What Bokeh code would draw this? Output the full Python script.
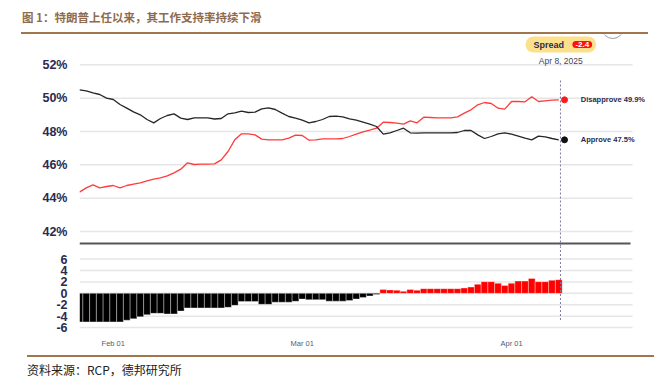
import pandas as pd
from bokeh.plotting import figure
from bokeh.models import (Range1d, FixedTicker, PrintfTickFormatter, DatetimeTickFormatter,
                          Label, ColumnDataSource, Div)
from bokeh.layouts import column
from bokeh.embed import file_html
from bokeh.resources import INLINE

# ---------------- data ----------------
title_text = "图 1：特朗普上任以来，其工作支持率持续下滑"
source_text = "资料来源：RCP，德邦研究所"
start_date = "2025-01-27"
last_date_label = "Apr 8, 2025"

approve = [50.50, 50.44, 50.32, 50.22, 50.00, 49.92, 49.62, 49.40, 49.18, 49.00,
           48.72, 48.52, 48.78, 48.96, 49.06, 48.80, 48.72, 48.82, 48.82, 48.82,
           48.75, 48.78, 49.06, 49.12, 49.22, 49.14, 49.16, 49.36, 49.42, 49.32,
           49.10, 48.90, 48.80, 48.68, 48.52, 48.60, 48.72, 48.90, 48.92, 48.88,
           48.76, 48.68, 48.56, 48.44, 48.30, 47.84, 47.92, 48.06, 48.20, 47.92,
           47.90, 47.92, 47.92, 47.92, 47.92, 47.92, 47.94, 48.06, 48.06, 47.80,
           47.58, 47.70, 47.86, 47.92, 47.84, 47.72, 47.60, 47.50, 47.72, 47.68,
           47.58, 47.50]

disapprove = [44.36, 44.62, 44.80, 44.62, 44.70, 44.76, 44.62, 44.76, 44.84, 44.92,
              45.04, 45.14, 45.22, 45.34, 45.52, 45.74, 46.12, 46.02, 46.04, 46.04,
              46.06, 46.30, 46.80, 47.50, 47.86, 47.86, 47.80, 47.54, 47.50, 47.50,
              47.50, 47.60, 47.78, 47.76, 47.48, 47.50, 47.56, 47.56, 47.56, 47.58,
              47.70, 47.84, 47.98, 48.08, 48.20, 48.56, 48.54, 48.50, 48.44, 48.64,
              48.52, 48.86, 48.84, 48.82, 48.82, 48.82, 48.88, 49.10, 49.30, 49.60,
              49.74, 49.68, 49.40, 49.34, 49.80, 49.80, 49.78, 50.08, 49.80, 49.84,
              49.88, 49.90]

spread = [-5.0, -5.0, -5.0, -5.0, -5.0, -5.0, -5.0, -4.7, -4.45, -4.1,
          -3.75, -3.5, -3.5, -3.6, -3.6, -3.1, -2.55, -2.55, -2.55, -2.55,
          -2.55, -2.55, -2.45, -2.1, -1.43, -1.43, -1.43, -1.92, -1.92, -1.55,
          -1.55, -1.55, -1.4, -1.0, -1.1, -1.1, -1.1, -1.37, -1.37, -1.37,
          -1.25, -0.99, -0.71, -0.44, -0.2, 0.66, 0.6, 0.55, 0.35, 0.66,
          0.55, 0.83, 0.83, 0.83, 0.83, 0.83, 0.83, 0.94, 1.1, 1.6,
          2.05, 2.05, 1.76, 1.38, 1.76, 2.15, 2.15, 2.6, 2.05, 2.05,
          2.3, 2.4]

pct_ticks = [42, 44, 46, 48, 50, 52]
spread_ticks = [-6, -4, -2, 0, 2, 4, 6]
date_ticks = ["2025-02-01", "2025-03-01", "2025-04-01"]

# ---------------- styles ----------------
W = 651
NAVY = "#2b2a4e"
BROWN_T = "#8e6b4e"
BROWN_L = "#a0764f"
GRID = "#e6e6e6"
LAT = "Liberation Sans"
DAY = 86400000.0

dates = pd.date_range(start_date, periods=len(approve), freq="D")
ms = [d.timestamp() * 1000.0 for d in dates]
last = ms[-1]
x_start = ms[0]
x_end = ms[0] + 84.44 * DAY       # frame reaches the right-hand labels
grid_end = ms[0] + 81.93 * DAY    # gridlines stop short of the labels
xr = Range1d(start=x_start, end=x_end)

def base(height, **kw):
    p = figure(width=W, height=height, output_backend="svg", toolbar_location=None, **kw)
    p.outline_line_color = None
    p.background_fill_color = "white"
    p.border_fill_color = "white"
    return p

def style_yaxis(a, ticks, fmt):
    a.ticker = FixedTicker(ticks=ticks)
    a.formatter = PrintfTickFormatter(format=fmt)
    a.axis_line_color = None
    a.major_tick_line_color = None
    a.minor_tick_line_color = None
    a.major_label_text_font = LAT
    a.major_label_text_font_size = "12.5px"
    a.major_label_text_font_style = "bold"
    a.major_label_text_color = NAVY
    a.major_label_standoff = 6

rule = f'<div style="width:627px;height:2px;background-color:{BROWN_L};"></div>'

# ---------------- header ----------------
hdr_html = (f'<div style="height:32px;padding-top:9px;box-sizing:border-box;'
            f'padding-left:1px;line-height:16px;'
            f"font-family:'Noto Sans CJK SC',sans-serif;font-size:11.5px;font-weight:bold;"
            f'color:{BROWN_T};">{title_text}</div>{rule}')
hdr = Div(text=hdr_html, width=627, height=34, margin=(0, 0, 0, 21))

# ---------------- upper chart ----------------
p1 = base(212, x_range=xr, y_range=Range1d(41.10, 53.82), x_axis_type="datetime",
          x_axis_location=None, min_border_left=79, min_border_right=2,
          min_border_top=0, min_border_bottom=0)
p1.grid.visible = False
style_yaxis(p1.yaxis[0], pct_ticks, "%d%%")
n1 = len(pct_ticks)
p1.segment(x0=[x_start] * n1, y0=pct_ticks, x1=[grid_end] * n1, y1=pct_ticks,
           line_color=GRID, line_width=1.5)

src = ColumnDataSource(dict(x=dates, a=approve, d=disapprove))
p1.line("x", "d", source=src, line_color="#ff3b3b", line_width=1.3)
p1.line("x", "a", source=src, line_color="#262626", line_width=1.3)

# separator between panels
p1.segment(x0=[x_start], y0=[41.28], x1=[grid_end - 0.3 * DAY], y1=[41.28],
           line_color="#555555", line_width=2)
vx = last + 0.25 * DAY
p1.segment(x0=[vx], y0=[51.06], x1=[vx], y1=[40.0],
           line_color="#7a7aa0", line_dash="2 2", line_width=1)

dot_x = last + 0.85 * DAY
p1.scatter(x=[dot_x], y=[disapprove[-1]], size=6, fill_color="#ff1a1a", line_color="#ff1a1a")
p1.scatter(x=[dot_x], y=[approve[-1]], size=6, fill_color="#111111", line_color="#111111")

p1.add_layout(Label(x=last, y=disapprove[-1], x_offset=22,
                    text=f"Disapprove {disapprove[-1]:.1f}%", text_font=LAT,
                    text_font_size="7.5px", text_font_style="bold", text_color=NAVY,
                    text_baseline="middle", text_align="left"))
p1.add_layout(Label(x=last, y=approve[-1], x_offset=22,
                    text=f"Approve {approve[-1]:.1f}%", text_font=LAT,
                    text_font_size="7.5px", text_font_style="bold", text_color=NAVY,
                    text_baseline="middle", text_align="left"))

p1.add_layout(Label(x=last, y=52.26, x_offset=2, text=last_date_label, text_font=LAT,
                    text_font_size="8.5px", text_color="#44445e",
                    text_baseline="middle", text_align="center"))

# spread badge
p1.add_layout(Label(x=last, y=53.22, x_offset=2, text="Spread", text_font=LAT,
                    text_font_size="9px", text_font_style="bold", text_color=NAVY,
                    text_baseline="middle", text_align="center",
                    background_fill_color="#fde08c",
                    padding=dict(left=8, right=32, top=3, bottom=3), border_radius=8))
p1.add_layout(Label(x=last, y=53.22, x_offset=23.5,
                    text=f"{approve[-1] - disapprove[-1]:.1f}", text_font=LAT,
                    text_font_size="8px", text_font_style="bold", text_color="white",
                    text_baseline="middle", text_align="center",
                    background_fill_color="#ff1010",
                    padding=dict(left=3, right=3, top=1, bottom=1), border_radius=5))
p1.scatter(x=[last + 8.0 * DAY], y=[54.24], size=22, fill_color=None,
           line_color="#9a9aa8", line_width=1)

# ---------------- lower chart ----------------
p2 = base(104, x_range=xr, y_range=Range1d(-6.33, 8.21), x_axis_type="datetime",
          min_border_left=79, min_border_right=2, min_border_top=0, min_border_bottom=16)
p2.grid.visible = False
n2 = len(spread_ticks)
p2.segment(x0=[x_start] * n2, y0=spread_ticks, x1=[grid_end] * n2, y1=spread_ticks,
           line_color=GRID, line_width=1.5)

colors = ["#000000" if v < 0 else "#ff0000" for v in spread]
bsrc = ColumnDataSource(dict(x=dates, top=spread, c=colors))
p2.vbar(x="x", top="top", bottom=0, width=DAY, source=bsrc, fill_color="c",
        line_color="white", line_alpha=0.35, line_width=1)
p2.segment(x0=[vx], y0=[9.0], x1=[vx], y1=[-5.0],
           line_color="#7a7aa0", line_dash="2 2", line_width=1)

style_yaxis(p2.yaxis[0], spread_ticks, "%d")

axx = p2.xaxis[0]
axx.ticker = FixedTicker(ticks=[pd.Timestamp(t).timestamp() * 1000.0 for t in date_ticks])
fmt = "%b %d"
axx.formatter = DatetimeTickFormatter(milliseconds=fmt, seconds=fmt, minsec=fmt, minutes=fmt,
                                      hourmin=fmt, hours=fmt, days=fmt, months=fmt, years=fmt)
axx.axis_line_color = None
axx.major_tick_line_color = None
axx.minor_tick_line_color = None
axx.major_label_text_font = LAT
axx.major_label_text_font_size = "7.5px"
axx.major_label_text_color = "#555a70"
axx.major_label_standoff = 3

# ---------------- footer ----------------
ftr_html = (f'{rule}<div style="padding-top:5px;line-height:16px;'
            f"font-family:'Noto Sans CJK SC',sans-serif;font-size:12px;"
            f'color:#222222;">{source_text}</div>')
ftr = Div(text=ftr_html, width=621, height=30, margin=(5, 0, 0, 27))

layout = column(hdr, p1, p2, ftr, spacing=0)
open("out.html", "w").write(file_html(layout, INLINE))
